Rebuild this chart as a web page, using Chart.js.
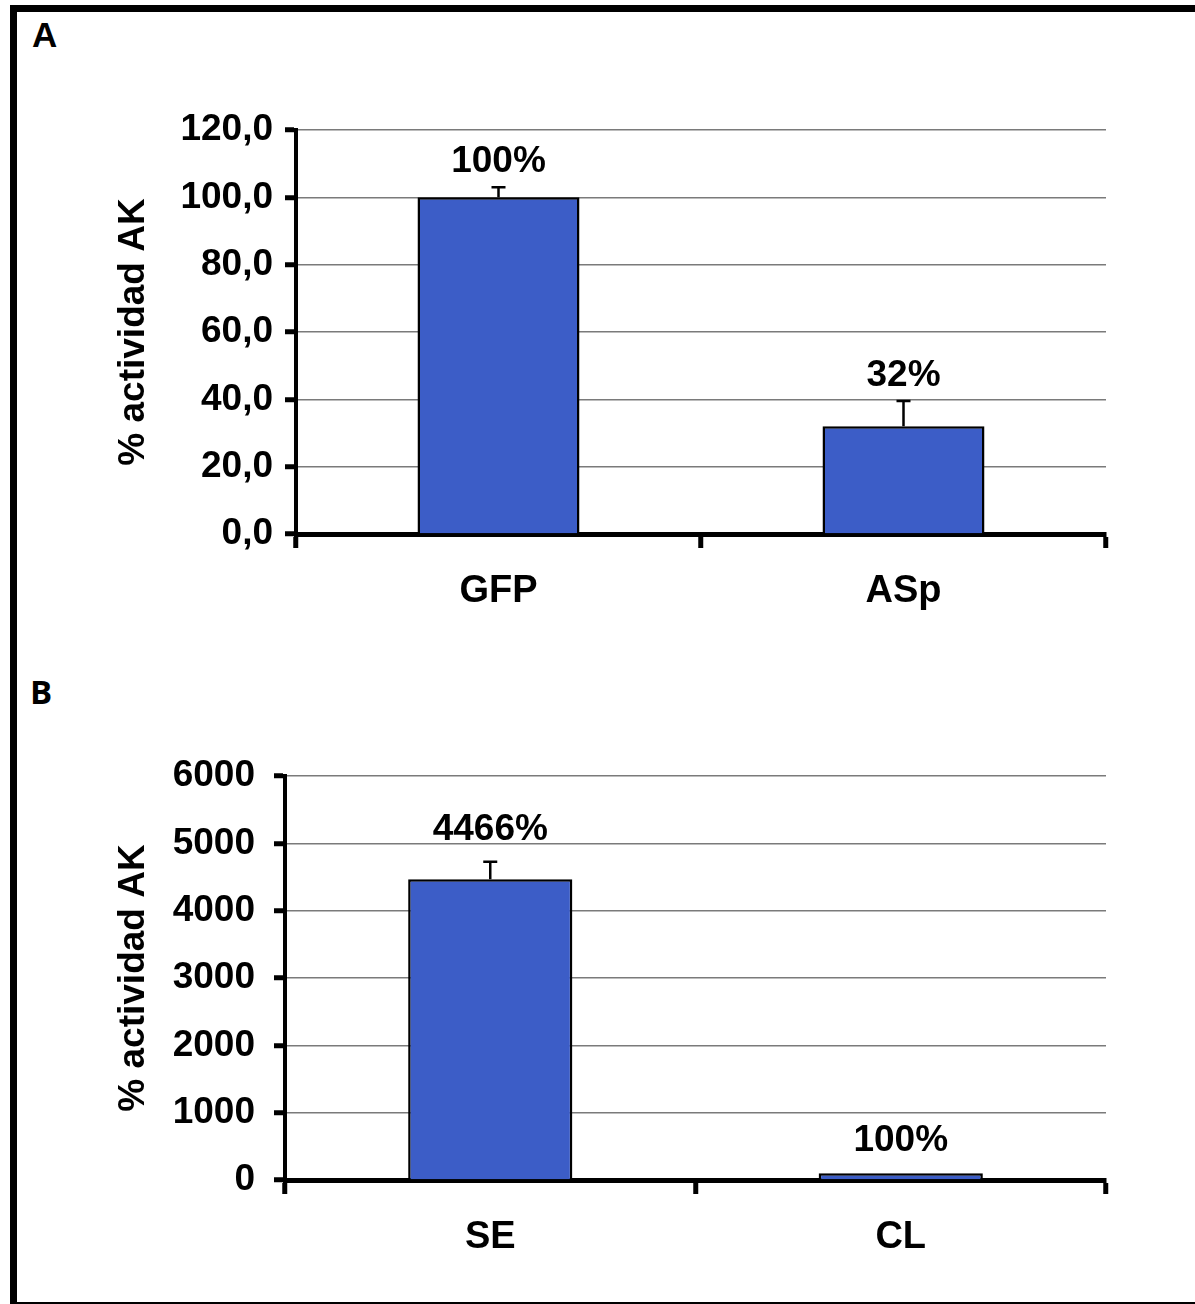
<!DOCTYPE html>
<html>
<head>
<meta charset="utf-8">
<script src="https://cdn.jsdelivr.net/npm/chart.js@4.4.1/dist/chart.umd.min.js"></script>
<style>
  body { margin: 0; background: #fff; width: 1195px; height: 1304px; position: relative; overflow: hidden; }
  #frame { position: absolute; left: 10px; top: 5px; width: 1178px; height: 1290px;
           border-style: solid; border-color: #000; border-width: 7px 3px 5px 7px; }
  .panel { position: absolute; font-family: "Liberation Sans", Arial, sans-serif; font-weight: bold; color: #000; }
  canvas { position: absolute; left: 0; }
</style>
</head>
<body>
<div id="frame"></div>
<div class="panel" style="left:32px;top:15px;font-size:35px;">A</div>
<div class="panel" style="left:30px;top:669px;font-size:33px;font-family:'Open Sans',sans-serif;">B</div>
<canvas id="chartA" width="1195" height="650" style="top:0"></canvas>
<canvas id="chartB" width="1195" height="654" style="top:650px"></canvas>
<script>
// Panel A data
const catsA = ["GFP", "ASp"];
const valsA = [100, 32];
const errA = [3, 7.5];
const labelsA = ["100%", "32%"];
const yTicksA = ["0,0", "20,0", "40,0", "60,0", "80,0", "100,0", "120,0"];

// Panel B data
const catsB = ["SE", "CL"];
const valsB = [4466, 100];
const errB = [260, 0];
const labelsB = ["4466%", "100%"];
const yTicksB = ["0", "1000", "2000", "3000", "4000", "5000", "6000"];

const FONT = "'Liberation Sans', Arial, sans-serif";
const BAR_BLUE = "#3c5dc7";

// error bars (plus only) and value labels above them
const barExtras = {
  id: "barExtras",
  afterDatasetsDraw(chart, args, opts) {
    const ctx = chart.ctx;
    const meta = chart.getDatasetMeta(0);
    const yScale = chart.scales.y;
    const vals = chart.data.datasets[0].data;
    ctx.save();
    meta.data.forEach((bar, i) => {
      const err = opts.err[i];
      const top = yScale.getPixelForValue(vals[i] + err);
      if (err > 0) {
        ctx.strokeStyle = "#000";
        ctx.lineWidth = 2.5;
        ctx.beginPath();
        ctx.moveTo(bar.x, bar.y);
        ctx.lineTo(bar.x, top);
        ctx.moveTo(bar.x - 7, top);
        ctx.lineTo(bar.x + 7, top);
        ctx.stroke();
      }
      ctx.fillStyle = "#000";
      ctx.font = "bold 37px " + FONT;
      ctx.textAlign = "center";
      ctx.textBaseline = "alphabetic";
      ctx.fillText(opts.labels[i], bar.x, top - opts.gap);
    });
    ctx.restore();
  },
};

function makeChart(id, cats, vals, err, labels, yTicks, maxY, step, area, gap, tickPad) {
  const canvas = document.getElementById(id);
  return new Chart(canvas, {
    type: "bar",
    data: {
      labels: cats,
      datasets: [
        {
          data: vals,
          backgroundColor: BAR_BLUE,
          borderColor: "#000",
          borderWidth: 2.5,
          barPercentage: 0.4,
          categoryPercentage: 1,
        },
      ],
    },
    options: {
      responsive: false,
      animation: false,
      devicePixelRatio: 1,
      layout: {
        padding: { left: 112, top: area.top, right: canvas.width - area.right, bottom: 0 },
      },
      plugins: {
        legend: { display: false },
        tooltip: { enabled: false },
        barExtras: { err: err, labels: labels, gap: gap },
      },
      scales: {
        x: {
          afterFit: (s) => { s.height = canvas.height - area.bottom; },
          grid: {
            offset: true,
            color: (c) => (c.index === cats.length ? "#808080" : "rgba(0,0,0,0)"),
            lineWidth: 1.5,
            tickColor: "#000",
            tickWidth: 5,
            tickLength: 14,
          },
          border: { color: "#000", width: 5 },
          ticks: {
            color: "#000",
            padding: 21,
            font: { family: FONT, size: 38, weight: "bold" },
          },
        },
        y: {
          min: 0,
          max: maxY,
          afterFit: (s) => { s.width = area.left - 112; },
          grid: {
            color: "#7a7a7a",
            lineWidth: 1.5,
            tickColor: "#000",
            tickWidth: 5,
            tickLength: 11,
          },
          border: { color: "#000", width: 4 },
          ticks: {
            stepSize: step,
            color: "#000",
            padding: tickPad,
            font: { family: FONT, size: 37, weight: "bold" },
            callback: (v, i) => yTicks[i],
          },
          title: {
            display: true,
            text: "% actividad AK",
            color: "#000",
            padding: 0,
            font: { family: FONT, size: 37, weight: "bold" },
          },
        },
      },
    },
    plugins: [barExtras],
  });
}

makeChart("chartA", catsA, valsA, errA, labelsA, yTicksA, 120, 20,
  { left: 296, right: 1106, top: 130, bottom: 534 }, 15, 12);
makeChart("chartB", catsB, valsB, errB, labelsB, yTicksB, 6000, 1000,
  { left: 285, right: 1106, top: 126, bottom: 530 }, 22, 19);
</script>
</body>
</html>
